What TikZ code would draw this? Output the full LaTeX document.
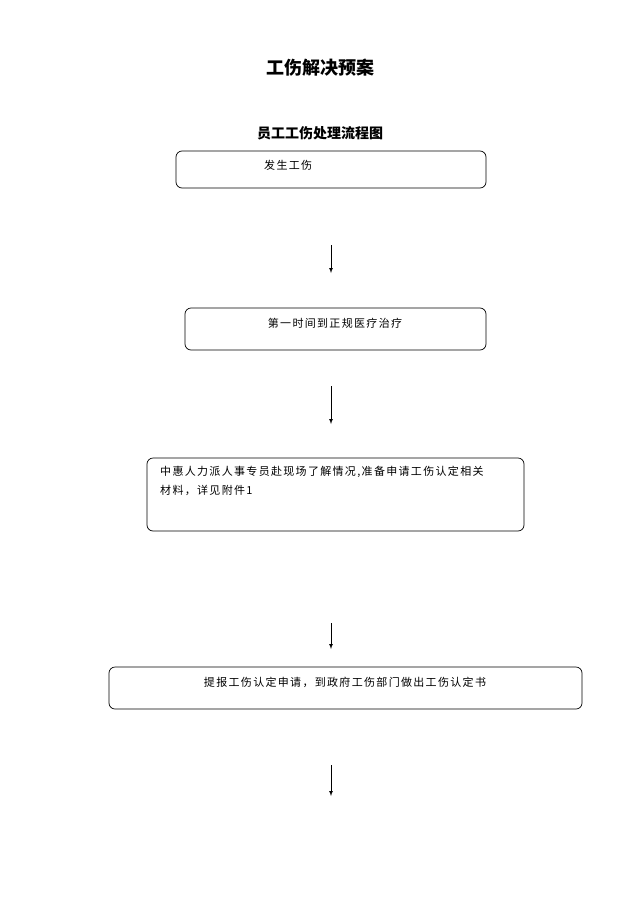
\documentclass[tikz,border=0pt]{standalone}
\usepackage{fontspec}
\newfontfamily\cjk{Noto Sans CJK SC}
\newfontfamily\cjkw[LetterSpace=12]{Noto Sans CJK SC}
\begin{document}
\begin{tikzpicture}[x=1pt,y=-1pt,
  box/.style={draw,rounded corners=6pt,line width=0.7pt},
  txt/.style={font=\cjkw\fontsize{11}{13}\selectfont,inner sep=0pt},
  arr/.style={-latex,line width=0.7pt}]
\useasboundingbox (0,0) rectangle (640,905);
\node[font=\cjk\bfseries\fontsize{18}{20}\selectfont] (title) at (320,68) {工伤解决预案};
\node[font=\cjk\bfseries\fontsize{14}{16}\selectfont] (sub) at (320,133) {员工工伤处理流程图};
\draw[box] (176,151) rectangle (486,188);
\node[txt,anchor=west] (t1) at (264,165) {发生工伤};
\coordinate (a1s) at (331,245); \coordinate (a1e) at (331,273);
\draw[arr] (a1s) -- (a1e);
\draw[box] (185,308) rectangle (486,350);
\node[txt] (t2) at (335,323) {第一时间到正规医疗治疗};
\coordinate (a2s) at (331,386); \coordinate (a2e) at (331,424);
\draw[arr] (a2s) -- (a2e);
\draw[box] (147,458) rectangle (524,531);
\node[txt,anchor=west] (t3a) at (160,472) {中惠人力派人事专员赴现场了解情况,准备申请工伤认定相关};
\node[txt,anchor=west] (t3b) at (160,490) {材料，详见附件1};
\coordinate (a3s) at (331,623); \coordinate (a3e) at (331,649);
\draw[arr] (a3s) -- (a3e);
\draw[box] (109,667) rectangle (582,709);
\node[txt] (t4) at (345,682) {提报工伤认定申请，到政府工伤部门做出工伤认定书};
\coordinate (a4s) at (331,765); \coordinate (a4e) at (331,796);
\draw[arr] (a4s) -- (a4e);
\end{tikzpicture}
\end{document}
